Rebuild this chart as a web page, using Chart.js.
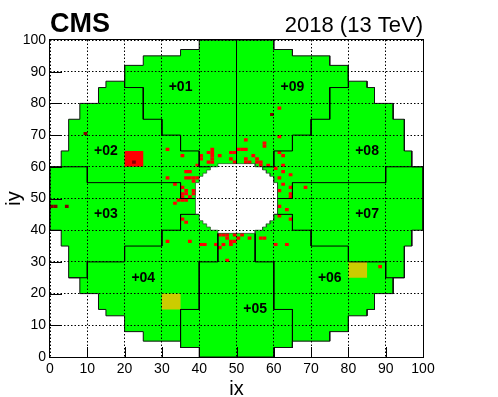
<!DOCTYPE html>
<html>
<head>
<meta charset="utf-8">
<title>CMS EE occupancy</title>
<script src="https://cdn.jsdelivr.net/npm/chart.js@4"></script>
<style>
  html, body { margin: 0; padding: 0; background: #fff; }
  #wrap { position: relative; width: 498px; height: 397px; }
</style>
</head>
<body>
<div id="wrap"><canvas id="eeMap"></canvas></div>
<script>
// endcap outline, [ix, iy] corners going clockwise from the left edge
const outline = [[0,60],[3,60],[3,65],[5,65],[5,75],[8,75],[8,80],[13,80],[13,85],[15,85],[15,87],[20,87],[20,92],[25,92],[25,95],[35,95],[35,97],[40,97],[40,100],
  [60,100],[60,97],[65,97],[65,95],[75,95],[75,92],[80,92],[80,87],[85,87],[85,85],[87,85],[87,80],[92,80],[92,75],[95,75],[95,65],[97,65],[97,60],[100,60],
  [100,40],[97,40],[97,35],[95,35],[95,25],[92,25],[92,20],[87,20],[87,15],[85,15],[85,13],[80,13],[80,8],[75,8],[75,5],[65,5],[65,3],[60,3],[60,0],
  [40,0],[40,3],[35,3],[35,5],[25,5],[25,8],[20,8],[20,13],[15,13],[15,15],[13,15],[13,20],[8,20],[8,25],[5,25],[5,35],[3,35],[3,40],[0,40],[0,60]];

// inner hole
const hole = [[39,45],[39,55],[40,55],[40,57],[41,57],[41,58],[42,58],[42,59],[43,59],[43,60],[45,60],[45,61],
  [55,61],[55,60],[57,60],[57,59],[58,59],[58,58],[59,58],[59,57],[60,57],[60,55],[61,55],
  [61,45],[60,45],[60,43],[59,43],[59,42],[58,42],[58,41],[57,41],[57,40],[55,40],[55,39],
  [45,39],[45,40],[43,40],[43,41],[42,41],[42,42],[41,42],[41,43],[40,43],[40,45],[39,45]];

// borders between the sectors
const sectorLines = [
  [[50,100],[50,61]],
  [[20,92],[20,85],[25,85],[25,75],[30,75],[30,70],[35,70],[35,65],[40,65],[40,60],[43,60]],
  [[80,92],[80,85],[75,85],[75,75],[70,75],[70,70],[65,70],[65,65],[60,65],[60,60],[57,60]],
  [[0,60],[10,60],[10,55],[35,55],[35,50],[39,50]],
  [[100,60],[90,60],[90,55],[65,55],[65,50],[61,50]],
  [[40,45],[35,45],[35,40],[30,40],[30,35],[20,35],[20,30],[10,30],[10,25],[5,25]],
  [[60,45],[65,45],[65,40],[70,40],[70,35],[80,35],[80,30],[90,30],[90,25],[95,25]],
  [[45,39],[45,30],[40,30],[40,15],[35,15],[35,3]],
  [[55,39],[55,30],[60,30],[60,15],[65,15],[65,3]]
];

// masked crystals, lower left corner of each one
const redCells = [[31,65],[35,63],[40,62],[40,63],[42,64],[43,65],[43,64],[43,63],[43,62],[42,61],[43,61],[45,63],[48,62],[48,64],[49,64],[49,61],[39,60],
  [50,65],[51,65],[52,65],[52,68],[52,62],[52,61],[53,61],[54,63],[55,62],[55,61],[56,61],[56,60],[58,60],[57,66],[57,67],
  [61,69],[61,78],[61,64],[62,63],[62,60],[60,59],[62,58],[64,57],[61,56],[62,54],[64,53],[68,53],[61,52],[64,51],[64,50],
  [61,47],[63,46],[61,44],[64,43],
  [36,58],[37,58],[31,56],[36,56],[37,56],[38,56],[39,56],[38,55],[33,54],[35,53],[36,52],[38,52],[35,51],[36,51],[38,51],[35,50],[37,50],
  [34,49],[35,49],[36,49],[33,48],[35,43],[36,42],
  [31,36],[37,36],[40,35],[41,35],[44,35],[45,34],[46,35],[45,38],[46,38],[47,38],[47,37],[48,36],[48,35],[49,36],[49,38],[50,37],[51,38],[53,37],[47,30],
  [56,37],[57,37],[60,35],[63,35],[88,28]];
const darkCells = [[9,70],[22,61],[59,76],[0,47],[1,47],[4,47]];

// whole 5x5 blocks
const redBlocks = [[20,60]];
const yellowBlocks = [[30,15],[80,25]];

const sectorNames = ['+01','+02','+03','+04','+05','+06','+07','+08','+09'];
const sectorSpots = [[35,85],[15,65],[15,45],[25,25],[55,15],[75,25],[85,45],[85,65],[65,85]];

const axisTicks = [0,10,20,30,40,50,60,70,80,90,100];

function toPoints(corners) {
  return corners.map(c => ({x: c[0], y: c[1]}));
}

function square(corner, size) {
  const x = corner[0], y = corner[1];
  return [[x,y],[x+size,y],[x+size,y+size],[x,y+size],[x,y]];
}

function filled(corners, color, order) {
  return {data: toPoints(corners), showLine: true, fill: 'shape', backgroundColor: color,
    borderWidth: 0, borderColor: color, pointRadius: 0, order: order};
}

function border(corners, width, color) {
  return {data: toPoints(corners), showLine: true, fill: false, borderColor: color,
    borderWidth: width, pointRadius: 0, order: 1, clip: false};
}

const datasets = [filled(outline, '#00ff00', 6), filled(hole, '#ffffff', 5)];
redBlocks.forEach(b => datasets.push(filled(square(b, 5), '#ff0000', 4)));
yellowBlocks.forEach(b => datasets.push(filled(square(b, 5), '#cccc00', 4)));
redCells.forEach(c => datasets.push(filled(square(c, 1), '#ff0000', 3)));
darkCells.forEach(c => datasets.push(filled(square(c, 1), '#800000', 2)));
datasets.push(border(outline, 1, '#111'));
datasets.push(border(hole, 0.7, '#2a4a2a'));
sectorLines.forEach(l => datasets.push(border(l, 1, '#000')));

// frame, inside ticks and all the loose text
const extras = {
  id: 'extras',
  afterDraw(chart) {
    const ctx = chart.ctx, a = chart.chartArea;
    const sx = chart.scales.x, sy = chart.scales.y;
    ctx.save();
    ctx.strokeStyle = '#000';
    ctx.lineWidth = 1;
    ctx.beginPath();
    axisTicks.slice(1, -1).forEach(t => {
      const px = Math.round(sx.getPixelForValue(t)) + 0.5;
      const py = Math.round(sy.getPixelForValue(t)) + 0.5;
      ctx.moveTo(px, a.bottom); ctx.lineTo(px, a.bottom - 10);
      ctx.moveTo(a.left, py); ctx.lineTo(a.left + 12, py);
    });
    ctx.stroke();
    ctx.strokeRect(a.left - 0.5, a.top - 0.5, a.right - a.left + 1, a.bottom - a.top + 1);

    ctx.fillStyle = '#000';
    ctx.textAlign = 'center';
    ctx.textBaseline = 'middle';
    ctx.font = 'bold 14px "Liberation Sans"';
    sectorNames.forEach((name, i) => {
      ctx.fillText(name, sx.getPixelForValue(sectorSpots[i][0]), sy.getPixelForValue(sectorSpots[i][1]));
    });

    ctx.textBaseline = 'alphabetic';
    ctx.textAlign = 'left';
    ctx.font = 'bold 27px "Liberation Sans"';
    ctx.fillText('CMS', 50, 32);
    ctx.textAlign = 'right';
    ctx.font = '22px "Liberation Sans"';
    ctx.fillText('2018 (13 TeV)', 423, 32);
    ctx.restore();
  }
};

function axis(titleText, titleFont, titlePad) {
  return {
    type: 'linear',
    min: 0,
    max: 100,
    afterBuildTicks(scale) { scale.ticks = axisTicks.map(v => ({value: v})); },
    grid: {display: true, color: '#000', lineWidth: 1, z: 1, drawTicks: false},
    border: {display: false, dash: [1.5, 2]},
    ticks: {color: '#000', font: {family: 'Liberation Sans', size: 14}, maxRotation: 0, autoSkip: false, padding: 4},
    title: {display: true, text: titleText, color: '#000', font: titleFont, padding: titlePad}
  };
}

const scaleX = axis('ix', {family: 'Liberation Sans', size: 20, lineHeight: 0.8}, 0);
scaleX.afterFit = s => { s.height = 40; };
const scaleY = axis('iy', {family: 'Liberation Sans', size: 20}, {top: 2, bottom: 0});
scaleY.afterFit = s => { s.width = 50; };

new Chart(document.getElementById('eeMap'), {
  type: 'scatter',
  data: {datasets: datasets},
  options: {
    responsive: true,
    maintainAspectRatio: false,
    animation: false,
    layout: {padding: {left: 0, top: 40, right: 75, bottom: 0}},
    plugins: {legend: {display: false}, tooltip: {enabled: false}, title: {display: false}},
    scales: {x: scaleX, y: scaleY}
  },
  plugins: [extras]
});
</script>
</body>
</html>
